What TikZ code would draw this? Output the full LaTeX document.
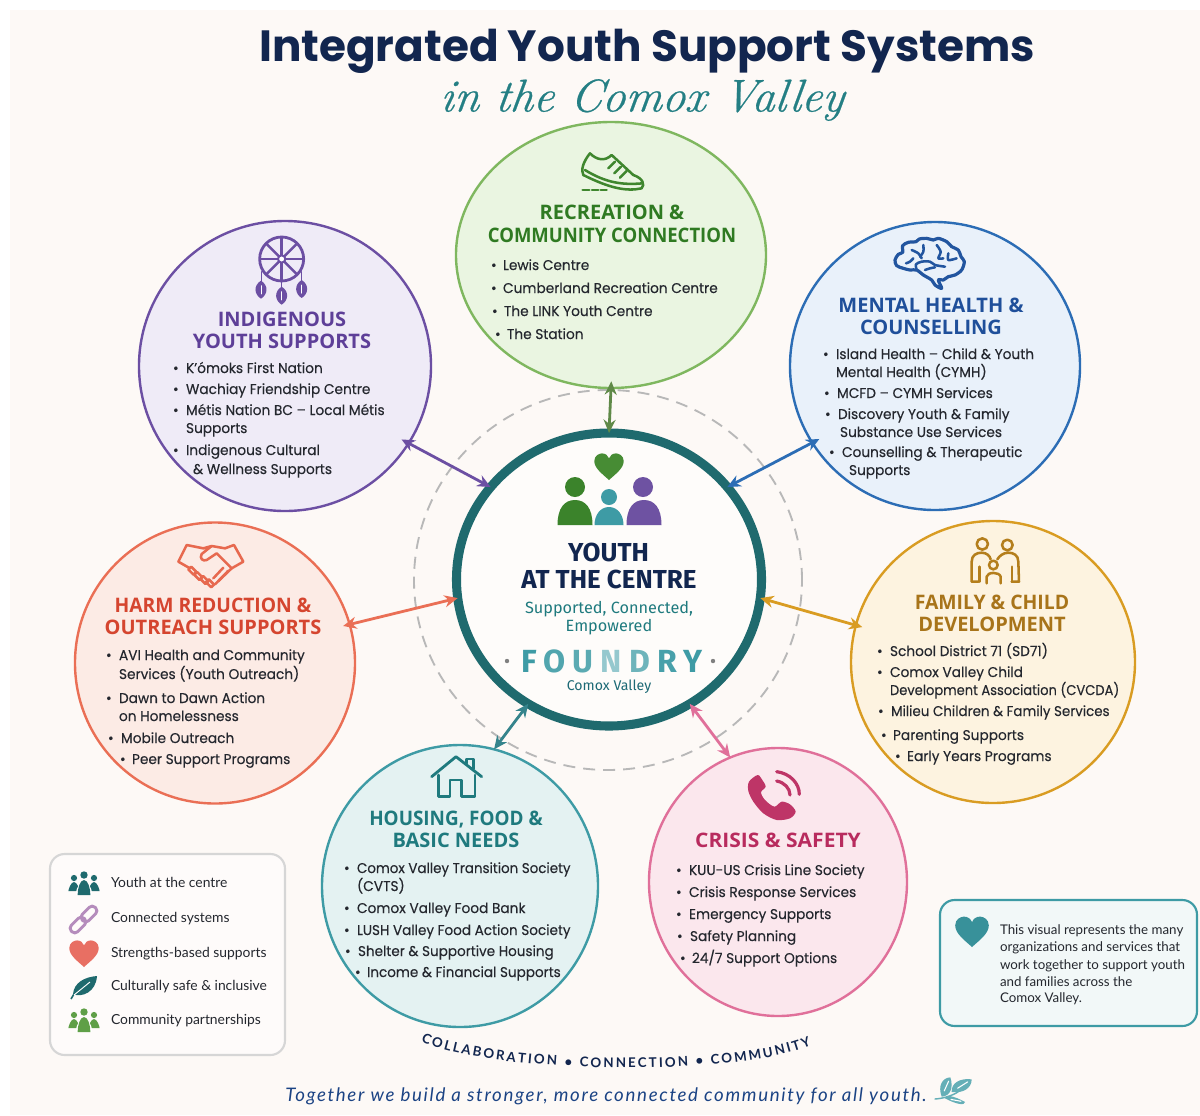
\documentclass[tikz,border=0pt]{standalone}
\usepackage{fontspec}
\usetikzlibrary{shapes.geometric,arrows.meta,decorations.text}
\newfontfamily\titlef{Poppins}
\newfontfamily\headf{Open Sans}
\newfontfamily\bodyf{Poppins}[FakeStretch=0.97,FakeBold=0.22]
\newfontfamily\latof{Lato}
\newfontfamily\tagf{Lato}[LetterSpace=9]
\newfontfamily\firaf{Fira Sans}
\newfontfamily\scriptf{Latin Modern Roman}[FakeBold=0.5,FakeSlant=0.12]
\definecolor{bgc}{HTML}{FDF9F6}
\definecolor{navy}{HTML}{12264F}
\definecolor{txt}{HTML}{24272E}
\definecolor{recS}{HTML}{7FB75F}\definecolor{recF}{HTML}{EAF5E1}\definecolor{recH}{HTML}{2F7A22}
\definecolor{indS}{HTML}{6C4FA3}\definecolor{indF}{HTML}{EFEBF7}\definecolor{indH}{HTML}{5E3F98}
\definecolor{menS}{HTML}{2C6DB5}\definecolor{menF}{HTML}{E9F1FA}\definecolor{menH}{HTML}{1F4F9A}
\definecolor{harS}{HTML}{EA6F55}\definecolor{harF}{HTML}{FCEBE5}\definecolor{harH}{HTML}{D5452F}
\definecolor{famS}{HTML}{D99C22}\definecolor{famF}{HTML}{FDF3E0}\definecolor{famH}{HTML}{A8741A}
\definecolor{houS}{HTML}{3E9BA5}\definecolor{houF}{HTML}{E4F2F2}\definecolor{houH}{HTML}{1F7A7E}
\definecolor{criS}{HTML}{E0709A}\definecolor{criF}{HTML}{FBE7ED}\definecolor{criH}{HTML}{B82B5E}
\definecolor{ring}{HTML}{1F6A6E}
\newcounter{tn}
\newcommand{\li}[5]{\stepcounter{tn}\node[item,text=txt] (t\arabic{tn}) at (#1,#3+5) {\makebox[\dimexpr #2pt*3/4-#1pt*3/4\relax][l]{•}#4#5};}
\newcommand{\lc}[3]{\stepcounter{tn}\node[item,text=txt] (t\arabic{tn}) at (#1,#2+5) {#3};}
\newcommand{\hd}[4]{\stepcounter{tn}\node[headtxt,text=#4] (t\arabic{tn}) at (#1,#2+7.5) {#3};}
\newcommand{\region}[7]{\node[regionc,draw=#6,fill=#7,minimum width={2*#4*0.75pt},minimum height={2*#5*0.75pt}] (#1) at (#2,#3) {};}
\newcommand{\heartat}[4]{\fill[#4,shift={(#1,#2)},scale=#3] (0,1) .. controls (-.5,.55) and (-1.05,.15) .. (-1.05,-.35) .. controls (-1.05,-.75) and (-.7,-.9) .. (-.5,-.9) .. controls (-.25,-.9) and (-.07,-.75) .. (0,-.55) .. controls (.07,-.75) and (.25,-.9) .. (.5,-.9) .. controls (.7,-.9) and (1.05,-.75) .. (1.05,-.35) .. controls (1.05,.15) and (.5,.55) .. (0,1) -- cycle;}
\newcommand{\dome}[5]{\fill[#5] (#1-#2,#4) .. controls (#1-#2,#3+8) and (#1-#2*.6,#3) .. (#1,#3) .. controls (#1+#2*.6,#3) and (#1+#2,#3+8) .. (#1+#2,#4) -- cycle;}
\newcommand{\crowd}[3]{\fill[#3] (#1-10,#2-5) circle (3.1);\fill[#3] (#1+10,#2-5) circle (3.1);
 \dome{#1-10}{5.6}{#2-1}{#2+8}{#3}\dome{#1+10}{5.6}{#2-1}{#2+8}{#3}
 \fill[#3] (#1,#2-8) circle (3.7);
 \fill[white] (#1-8,#2+12) .. controls (#1-8,#2-5) and (#1+8,#2-5) .. (#1+8,#2+12) -- cycle;
 \dome{#1}{6.4}{#2-3}{#2+12}{#3}}
\newcommand{\sprigleaf}[4]{\fill[houS!80!white] (#1,#2) .. controls (#1*.7+#3*.3-20,#2*.7+#4*.3-16) and (#1*.3+#3*.7-16,#2*.3+#4*.7-16) .. (#3,#4) .. controls (#1*.3+#3*.7+18,#2*.3+#4*.7+14) and (#1*.7+#3*.3+18,#2*.7+#4*.3+16) .. (#1,#2) -- cycle;
 \draw[white,line width=.8pt] (#1*.7+#3*.3,#2*.7+#4*.3) -- (#1*.2+#3*.8,#2*.2+#4*.8);}
\tikzset{
 item/.style={anchor=base west,inner sep=0,outer sep=0,font=\bodyf\fontsize{10.6}{12}\selectfont},
 headtxt/.style={anchor=base,inner sep=0,outer sep=0,font=\headf\bfseries\fontsize{15}{17}\selectfont},
 regionc/.style={ellipse,inner sep=0,outer sep=0,line width=1.8pt},
 conn/.style={line width=2.1pt,{Stealth[length=10pt,width=9pt]}-{Stealth[length=10pt,width=9pt]}},
 icon/.style={line width=1.9pt,line cap=round,line join=round},
 leg/.style={anchor=base west,inner sep=0,outer sep=0,text=txt,font=\latof\fontsize{10.4}{12}\selectfont},
 note/.style={anchor=base west,inner sep=0,outer sep=0,text=txt,font=\latof\fontsize{10}{12}\selectfont},
}
\begin{document}
\begin{tikzpicture}[x=0.75pt,y=-0.75pt]
\useasboundingbox (0,0) rectangle (1200,1115);
\fill[white] (0,0) rectangle (1200,1115);
\fill[bgc] (10,10) rectangle (1200,1115);
% title
\node[inner sep=0,text=navy,font=\titlef\bfseries\fontsize{32.8}{36}\selectfont] (title) at (647,51) {Integrated Youth Support Systems};
\node[inner sep=0,text=houH!85!houS,font=\scriptf\itshape\fontsize{34.5}{38}\selectfont] (subtitle) at (641,100) {in the Comox Valley};
% dashed ring
\node[ellipse,draw=black!28,dash pattern=on 9pt off 6pt,line width=1.4pt,inner sep=0,minimum width={2*194*0.75pt},minimum height={2*190*0.75pt}] (halo) at (608,580) {};
% regions
\region{rec}{611}{255}{155}{133}{recS}{recF}
\region{ind}{285}{366}{146}{145}{indS}{indF}
\region{men}{935}{366}{145}{144}{menS}{menF}
\region{har}{215}{663}{140}{140.5}{harS}{harF}
\region{fam}{993}{662}{142}{141}{famS}{famF}
\region{hou}{460}{886}{138}{141}{houS}{houF}
\region{cri}{778}{882}{129}{134}{criS}{criF}
\node[ellipse,draw=ring,fill=bgc!50!white,line width=6.8pt,inner sep=0,outer sep=0,minimum width={2*152.5*0.75pt},minimum height={2*146.5*0.75pt}] (ctr) at (609,579.5) {};
% connectors
\draw[conn,draw=recS!75!black,fill=recS!75!black,shorten <=-5pt] (rec.270) -- (ctr.90);
\draw[conn,draw=indS,fill=indS,shorten <=-6pt] (ind.-32) -- (ctr.142);
\draw[conn,draw=menS,fill=menS,shorten <=-6pt] (men.212) -- (ctr.38);
\draw[conn,draw=harS,fill=harS,shorten <=-5pt] (har.16) -- (ctr.187);
\draw[conn,draw=famS,fill=famS,shorten <=-5pt] (fam.165) -- (ctr.-7);
\draw[conn,draw=houS!85!black,fill=houS!85!black] (hou.76) -- (ctr.237);
\draw[conn,draw=criS,fill=criS] (cri.111) -- (ctr.-57);
% centre content
\heartat{609}{466}{14}{recH!70!recS}
\fill[recH!85!recS] (575,487) circle (10);
\dome{575}{17.5}{500}{525}{recH!85!recS}
\fill[indH!90!white] (643,487) circle (10);
\dome{644}{17.5}{500}{525}{indH!90!white}
\fill[houS] (609,497) circle (8);
\dome{609}{14.5}{507}{525}{houS}
\node[inner sep=0,text=navy,font=\firaf\bfseries\fontsize{19.5}{21}\selectfont] (c1) at (608.5,552) {YOUTH};
\node[inner sep=0,text=navy,font=\firaf\bfseries\fontsize{19.5}{21}\selectfont] (c2) at (609,579.5) {AT THE CENTRE};
\node[inner sep=0,text=houH,font=\firaf\fontsize{12.2}{14}\selectfont] (c3) at (609,609.5) {Supported, Connected,};
\node[inner sep=0,text=houH,font=\firaf\fontsize{12.2}{14}\selectfont] (c4) at (609,627.5) {Empowered};
\node[inner sep=0,font=\firaf\bfseries\fontsize{24}{27}\selectfont] (c5) at (612,661) {\textcolor{houS}{F}\hspace{5.3pt}\textcolor{houS!90}{O}\hspace{5.3pt}\textcolor{houS!85}{U}\hspace{5.3pt}\textcolor{houS!55}{N}\hspace{5.3pt}\textcolor{houS!75}{D}\hspace{5.3pt}\textcolor{houS!95}{R}\hspace{5.3pt}\textcolor{houS}{Y}};
\fill[black!50] (507,661) circle (2.2);
\fill[black!50] (713,661) circle (2.2);
\node[inner sep=0,text=houH!80!navy,font=\firaf\fontsize{10.6}{12}\selectfont] (c6) at (609,687) {Comox Valley};
% recreation
\begin{scope}[shift={(150,120)},scale=0.3333,icon,draw=recH!80!recS,line width=1.9pt]
\draw (1320,100) .. controls (1340,120) and (1365,125) .. (1385,105) -- (1450,165) .. controls (1480,175) and (1485,195) .. (1475,205) .. controls (1430,215) and (1380,205) .. (1300,165) .. controls (1292,150) and (1300,125) .. (1320,100) -- cycle;
\draw (1305,150) .. controls (1370,190) and (1420,195) .. (1478,190);
\draw (1395,125) -- (1375,145);\draw (1413,140) -- (1393,160);\draw (1430,153) -- (1410,173);
\draw (1298,210) -- (1318,210);\draw (1326,210) -- (1345,210);\draw (1352,210) -- (1370,210);
\end{scope}
\hd{612}{212}{RECREATION \&}{recH}
\hd{612}{235}{\addfontfeature{FakeStretch=.925}COMMUNITY CONNECTION}{recH}
\li{491}{503}{265}{Lewis Centre}{}
\li{491}{503}{288}{Cumberland Recreation Centre}{}
\li{492}{504}{311}{The LINK Youth Centre}{}
\li{495}{507}{334}{The Station}{}
% indigenous
\begin{scope}[shift={(150,120)},scale=0.3333,icon,draw=indS,line width=2.1pt]
\draw (395,417) circle (66);
\foreach \a in {0,45,...,315}{\draw[line width=1.8pt] (395,417) -- ++(\a:62);}
\fill[white,draw=indS,line width=1.5pt] (395,417) circle (11);
\draw[line width=1.1pt] (335,455) -- (335,485);\draw[line width=1.1pt] (395,480) -- (395,505);\draw[line width=1.1pt] (455,455) -- (455,485);
\foreach \x/\y in {333/482,395/500,455/480}{\fill[indS] (\x,\y) .. controls (\x+24,\y+15) and (\x+20,\y+42) .. (\x,\y+54) .. controls (\x-20,\y+42) and (\x-24,\y+15) .. (\x,\y) -- cycle;
\draw[white,line width=.5pt] (\x,\y+15) -- (\x,\y+40);}
\end{scope}
\hd{282}{319}{INDIGENOUS}{indH}
\hd{282}{341}{YOUTH SUPPORTS}{indH}
\li{173}{186}{368}{K’ómoks First Nation}{}
\li{173}{186}{389}{Wachiay Friendship Centre}{}
\li{173}{186}{410}{Métis Nation BC – Local Métis}{}
\lc{186}{428}{Supports}
\li{173}{186}{450}{Indigenous Cultural}{}
\lc{193}{469}{\& Wellness Supports}
% mental
\begin{scope}[shift={(880,225)},scale=0.3333,icon,draw=menH!80!menS,line width=2.4pt]
\draw plot[smooth cycle] coordinates {(45,105)(55,88)(68,82)(68,62)(85,52)(108,50)(118,42)(140,40)(160,45)(175,40)(200,50)(215,65)(235,75)(243,95)(253,110)(245,135)(225,150)(205,155)(190,165)(175,165)(185,190)(165,180)(155,165)(130,150)(110,135)(90,135)(70,130)(50,122)};
\draw[line width=1.9pt] plot[smooth] coordinates {(110,135)(108,118)(125,110)(150,110)(165,120)(195,125)};
\draw[line width=1.9pt] plot[smooth] coordinates {(135,135)(150,130)(165,127)};
\draw[line width=1.9pt] plot[smooth] coordinates {(95,75)(115,85)(125,100)};
\draw[line width=1.9pt] plot[smooth] coordinates {(130,60)(130,80)(120,95)};
\draw[line width=1.9pt] plot[smooth] coordinates {(170,60)(182,80)(175,100)(190,100)};
\draw[line width=1.9pt] plot[smooth] coordinates {(78,115)(90,110)(100,100)};
\draw[line width=1.9pt] plot[smooth] coordinates {(205,85)(205,105)(230,100)};
\end{scope}
\hd{931}{305}{MENTAL HEALTH \&}{menH}
\hd{931}{327}{COUNSELLING}{menH}
\li{823}{836}{354}{Island Health – Child \& Youth}{}
\lc{836}{372}{Mental Health (CYMH)}
\li{824}{837}{393}{MCFD – CYMH Services}{}
\li{825}{838}{414}{Discovery Youth \& Family}{}
\lc{840}{432}{Substance Use Services}
\li{829}{842}{452}{Counselling \& Therapeutic}{}
\lc{849}{470}{Supports}
% harm
\begin{scope}[shift={(160,530)},scale=0.3333,icon,draw=harS!85!harH,line width=1.9pt]
\draw (90,115) -- (55,95) -- (80,45) -- (130,55) -- (155,48) -- (125,72) .. controls (118,85) and (128,95) .. (140,90) -- (170,70) -- (215,115);
\draw (155,48) -- (195,55) -- (222,45) -- (250,95) -- (215,115) -- (165,163);
\draw (190,113) -- (160,145);\draw (205,122) -- (175,153);
\foreach \x/\y in {97/122,115/138,133/150,150/160}{\draw[rotate around={-45:(\x,\y)}] (\x-11,\y-6) rectangle (\x+11,\y+6);}
\end{scope}
\hd{213}{605}{\addfontfeature{FakeStretch=.965}HARM REDUCTION \&}{harH}
\hd{213}{627}{OUTREACH SUPPORTS}{harH}
\li{106}{119}{655}{AVI Health and Community}{}
\lc{119}{674}{Services (Youth Outreach)}
\li{106}{119}{698}{Dawn to Dawn Action}{}
\lc{119}{716}{on Homelessness}
\li{108}{121}{738}{Mobile Outreach}{}
\li{120}{132}{759}{Peer Support Programs}{}
% family
\begin{scope}[shift={(950,530)},scale=0.3333,icon,draw=famH!75!famS,line width=1.9pt]
\draw (97,42) circle (17);\draw (172,45) circle (16);\draw (130,105) circle (13);
\draw (85,155) -- (65,155) -- (65,95) .. controls (65,75) and (80,68) .. (95,68) .. controls (110,68) and (120,78) .. (122,88);
\draw (185,155) -- (207,155) -- (205,95) .. controls (205,75) and (190,68) .. (175,68) .. controls (160,68) and (148,78) .. (142,88);
\draw (110,160) -- (110,140) .. controls (112,125) and (148,125) .. (152,140) -- (152,160);
\draw (88,110) -- (88,155);\draw (186,110) -- (186,155);
\end{scope}
\hd{992}{602}{\addfontfeature{FakeStretch=.97}FAMILY \& CHILD}{famH}
\hd{992}{624}{DEVELOPMENT}{famH}
\li{877}{890}{651}{School District 71 (SD71)}{}
\li{877}{890}{672}{Comox Valley Child}{}
\lc{890}{690}{\addfontfeature{FakeStretch=.925}Development Association (CVCDA)}
\li{878}{891}{711}{\addfontfeature{FakeStretch=.95}Milieu Children \& Family Services}{}
\li{881}{893}{735}{Parenting Supports}{}
\li{895}{907}{756}{Early Years Programs}{}
% housing
\begin{scope}[shift={(420,745)},scale=0.3333,icon,draw=houH,line width=2.1pt]
\draw (35,95) -- (108,35) -- (185,95);
\draw (140,55) -- (140,42) -- (160,42) -- (160,72);
\draw (55,90) -- (55,155) -- (90,155) -- (90,105) -- (125,105) -- (125,155) -- (165,155) -- (165,90);
\end{scope}
\hd{456}{818}{\addfontfeature{FakeStretch=.945}HOUSING, FOOD \&}{houH}
\hd{456}{840}{BASIC NEEDS}{houH}
\li{344}{357}{868}{\addfontfeature{FakeStretch=.95}Comox Valley Transition Society}{}
\lc{357}{886}{(CVTS)}
\li{344}{357}{908}{Comox Valley Food Bank}{}
\li{344}{357}{930}{\addfontfeature{FakeStretch=.96}LUSH Valley Food Action Society}{}
\li{345}{358}{951}{\addfontfeature{FakeStretch=.96}Shelter \& Supportive Housing}{}
\li{355}{367}{972}{\addfontfeature{FakeStretch=.96}Income \& Financial Supports}{}
% crisis
\begin{scope}[shift={(735,765)},scale=0.3333,icon,line width=2.4pt]
\fill[criH!85!criS] plot[smooth cycle] coordinates {(42,50)(68,30)(82,45)(92,65)(78,82)(90,105)(118,125)(140,110)(165,118)(182,140)(165,160)(125,165)(85,145)(55,110)(40,78)};
\draw[criH!85!criS] (125,48) .. controls (148,52) and (165,70) .. (165,90);
\draw[criH!85!criS] (125,20) .. controls (165,25) and (193,55) .. (193,88);
\end{scope}
\hd{778}{840}{\addfontfeature{FakeStretch=1.05}CRISIS \& SAFETY}{criH}
\li{676}{689}{870}{KUU-US Crisis Line Society}{}
\li{676}{689}{892}{Crisis Response Services}{}
\li{676}{689}{914}{Emergency Supports}{}
\li{677}{690}{936}{Safety Planning}{}
\li{680}{692}{958}{24/7 Support Options}{}
% legend
\node[draw=black!16,fill=bgc!60!white,line width=1.6pt,rounded corners=11pt,inner sep=0,minimum width={235*0.75pt},minimum height={201*0.75pt}] (legend) at (167.5,954.5) {};
\crowd{84}{883}{ring}
\begin{scope}[line width=2.2pt,draw=indS!65!criS!70!white]
\draw[shift={(89,914)},rotate=45,rounded corners=3pt] (-9,-4.5) rectangle (9,4.5);
\draw[shift={(78,925)},rotate=45,rounded corners=3pt] (-9,-4.5) rectangle (9,4.5);
\end{scope}
\heartat{84}{953}{14}{harS!80!criS}
\fill[ring] (97,976) .. controls (84,977) and (74,983) .. (73,994) .. controls (82,998) and (96,992) .. (97,976) -- cycle;
\draw[ring,line width=1.2pt] (71,999) -- (74,994);
\draw[white,line width=.7pt] (74,995) -- (90,982);
\crowd{84}{1020}{recS!60!recH}
\node[leg] (l1) at (111,887.5) {Youth at the centre};
\node[leg] (l2) at (111,922.5) {Connected systems};
\node[leg] (l3) at (111,957.5) {Strengths-based supports};
\node[leg] (l4) at (111,990.5) {Culturally safe \& inclusive};
\node[leg] (l5) at (111,1024.5) {Community partnerships};
% note
\node[draw=houS,fill=houF!50!white,line width=1.6pt,rounded corners=11pt,inner sep=0,minimum width={257*0.75pt},minimum height={126*0.75pt}] (notebox) at (1068.5,963) {};
\heartat{972}{931}{16}{houS!80!ring}
\node[note] (n1) at (1000,934) {This visual represents the many};
\node[note] (n2) at (1000,951) {organizations and services that};
\node[note] (n3) at (1000,969) {work together to support youth};
\node[note] (n4) at (1000,986) {and families across the};
\node[note] (n5) at (1000,1002) {Comox Valley.};
% arc text
\path[decorate,decoration={text along path,text align={fit to path},text={|\latof\bfseries\fontsize{10}{12}\selectfont\color{navy}|COLLABORATION • CONNECTION • COMMUNITY}}] (421,1041) .. controls (480,1072) and (730,1080) .. (811,1045);
% tagline
\node[inner sep=0,text=menH!70!navy,font=\tagf\itshape\fontsize{14}{16}\selectfont] (tag) at (606,1096) {Together we build a stronger, more connected community for all youth.};
\begin{scope}[shift={(925,1070)},scale=0.3333,line cap=round]
\draw[houS!80!white,line width=1.1pt] (30,87) .. controls (60,85) and (85,75) .. (100,65);
\sprigleaf{50}{80}{76}{22}
\sprigleaf{80}{66}{140}{28}
\sprigleaf{60}{85}{120}{96}
\end{scope}
\end{tikzpicture}
\end{document}
